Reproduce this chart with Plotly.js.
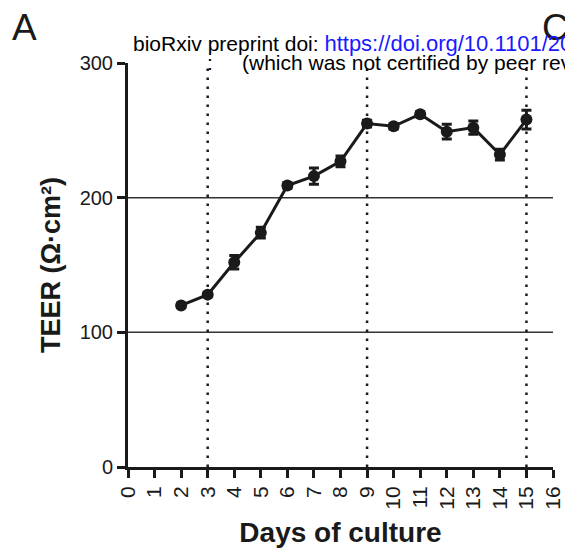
<!DOCTYPE html>
<html>
<head>
<meta charset="utf-8">
<script src="https://cdn.plot.ly/plotly-3.0.1.min.js"></script>
<style>
  html, body { margin: 0; padding: 0; background: #fff; }
  #chart { width: 565px; height: 555px; }
</style>
</head>
<body>
<div id="chart"></div>
<script>
// TEER measured over days of culture (mean ± SEM)
const days = [2, 3, 4, 5, 6, 7, 8, 9, 10, 11, 12, 13, 14, 15];
const teer = [120, 128, 152, 174, 209, 216, 227, 255, 253, 262, 249, 252, 232, 258];
const sem  = [1.5, 1.5, 5, 4, 2, 6, 4, 2.5, 2, 2, 5.5, 5, 4, 7];

// Axis ticks and reference lines
const xTicks = [0, 1, 2, 3, 4, 5, 6, 7, 8, 9, 10, 11, 12, 13, 14, 15, 16];
const yTicks = [0, 100, 200, 300];
const hLines = [100, 200];
const markedDays = [3, 9, 15];

const ink = '#1a1a1a';
const font = 'Liberation Sans, Arial, Helvetica, sans-serif';

const trace = {
  x: days,
  y: teer,
  type: 'scatter',
  mode: 'lines+markers',
  line: { color: ink, width: 3 },
  marker: { color: ink, size: 12, symbol: 'circle' },
  error_y: { type: 'data', array: sem, visible: true, color: ink, thickness: 3, width: 5 },
  cliponaxis: false,
  showlegend: false
};

const shapes = [];
hLines.forEach(v => shapes.push({
  type: 'line', xref: 'paper', yref: 'y', x0: 0, x1: 1, y0: v, y1: v,
  line: { color: '#333', width: 1.5 }, layer: 'below'
}));
markedDays.forEach(d => shapes.push({
  type: 'line', xref: 'x', yref: 'y', x0: d, x1: d, y0: 0, y1: 300,
  line: { color: ink, width: 2.5, dash: '2.5px,6.5px' }, layer: 'below'
}));

// Plot area: left 128, right 553, top 63, bottom 467
const L = 128, R = 553, T = 63, B = 467;
const px = v => (v - L) / (R - L);
const py = v => (B - v) / (B - T);

const annotations = [
  { text: 'A', x: px(10), y: py(28), xanchor: 'left', yanchor: 'middle',
    font: { family: font, size: 37, color: ink } },
  { text: 'C', x: px(540), y: py(28), xanchor: 'left', yanchor: 'middle',
    font: { family: font, size: 37, color: ink } },
  { text: 'bioRxiv preprint doi: <span style="color:#1a1aff;font-size:22px">https://doi.org/10.1101/2021</span>',
    x: px(131), y: py(44), xanchor: 'left', yanchor: 'middle',
    font: { family: font, size: 21, color: '#000' } },
  { text: ':', x: px(205), y: py(62), xanchor: 'left', yanchor: 'middle',
    font: { family: font, size: 21, color: '#000' } },
  { text: '(which was not certified by peer review)',
    x: px(240), y: py(62), xanchor: 'left', yanchor: 'middle',
    font: { family: font, size: 21, color: '#000' } }
];
annotations.forEach(a => { a.xref = 'paper'; a.yref = 'paper'; a.showarrow = false; });

const layout = {
  width: 565,
  height: 555,
  margin: { l: L, r: 565 - R, t: T, b: 555 - B },
  paper_bgcolor: '#fff',
  plot_bgcolor: '#fff',
  font: { family: font, color: ink },
  xaxis: {
    range: [0, 16],
    tickvals: xTicks,
    ticktext: xTicks.map(String),
    tickangle: -90,
    ticks: 'outside', ticklen: 8, tickwidth: 3, tickcolor: ink,
    showline: true, linewidth: 3, linecolor: ink,
    showgrid: false, zeroline: false,
    tickfont: { family: font, size: 21, color: ink },
    title: { text: 'Days of culture', font: { family: font, size: 28, color: ink, weight: 'bold' }, standoff: 14 }
  },
  yaxis: {
    range: [0, 300],
    tickvals: yTicks,
    ticks: 'outside', ticklen: 8, tickwidth: 3, tickcolor: ink,
    showline: true, linewidth: 3, linecolor: ink,
    showgrid: false, zeroline: false,
    tickfont: { family: font, size: 20, color: ink },
    title: { text: 'TEER (Ω·cm²)', font: { family: font, size: 27, color: ink, weight: 'bold' }, standoff: 12 }
  },
  shapes: shapes,
  annotations: annotations
};

Plotly.newPlot('chart', [trace], layout, { staticPlot: true, displayModeBar: false });
</script>
</body>
</html>
